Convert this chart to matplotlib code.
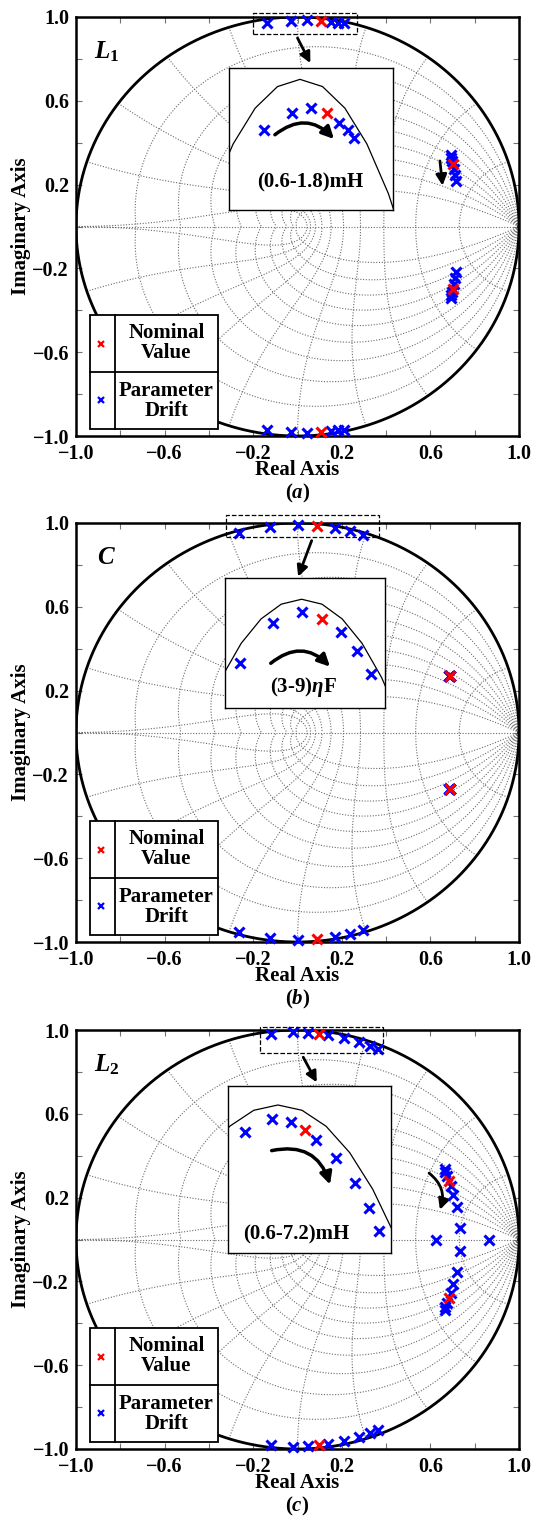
import numpy as np
import matplotlib.pyplot as plt
from matplotlib.patches import Rectangle

plt.rcParams['font.family'] = ['Liberation Serif', 'DejaVu Serif']
plt.rcParams['font.weight'] = 'bold'
plt.rcParams['axes.labelweight'] = 'bold'
plt.rcParams['mathtext.fontset'] = 'custom'
plt.rcParams['mathtext.rm'] = 'Liberation Serif:bold'
plt.rcParams['mathtext.bf'] = 'Liberation Serif:bold'
plt.rcParams['mathtext.it'] = 'Liberation Serif:italic:bold'
plt.rcParams['mathtext.bfit'] = 'Liberation Serif:italic:bold'

# closed-loop poles (upper half plane, conjugates mirrored when drawn)
# (a) L1 swept over 0.6-1.8 mH
l1_hi_re = [-0.139, -0.031, 0.044, 0.105, 0.150, 0.184, 0.210]
l1_hi_im = [0.973, 0.982, 0.985, 0.982, 0.977, 0.973, 0.969]
l1_lo_re = [0.692, 0.695, 0.697, 0.700, 0.705, 0.710, 0.715]
l1_lo_im = [0.340, 0.325, 0.311, 0.297, 0.275, 0.245, 0.215]
l1_real = []
l1_nom = 3

# (b) C swept over 3-9 nF
c_hi_re = [-0.264, -0.124, 0.001, 0.087, 0.169, 0.237, 0.297]
c_hi_im = [0.951, 0.982, 0.990, 0.985, 0.975, 0.960, 0.942]
c_lo_re = [0.686, 0.686, 0.687, 0.690, 0.687, 0.687, 0.688]
c_lo_im = [0.270, 0.270, 0.269, 0.269, 0.269, 0.268, 0.268]
c_real = []
c_nom = 3

# (c) L2 swept over 0.6-7.2 mH, last step splits onto the real axis
l2_hi_re = [-0.120, -0.022, 0.046, 0.096, 0.139, 0.211, 0.279, 0.327, 0.365]
l2_hi_im = [0.981, 0.990, 0.988, 0.982, 0.975, 0.962, 0.944, 0.926, 0.910]
l2_lo_re = [0.664, 0.668, 0.674, 0.685, 0.692, 0.703, 0.719, 0.734]
l2_lo_im = [0.335, 0.322, 0.305, 0.278, 0.255, 0.213, 0.157, 0.055]
l2_real = [0.625, 0.866]
l2_nom = 3

W, H = 539, 1518
fig = plt.figure(figsize=(W / 100, H / 100), dpi=100)


def px_rect(x0, y0, x1, y1):
    return [x0 / W, 1 - y1 / H, (x1 - x0) / W, (y1 - y0) / H]


def zgrid(ax):
    kw = dict(color='0.42', lw=0.8, ls=(0, (1, 1.5)), zorder=1)
    th = np.linspace(0, np.pi, 300)
    for zeta in np.arange(1, 10) / 10:
        m = np.tan(np.arcsin(zeta))
        z = np.exp(th * (-m + 1j))
        ax.plot(z.real, z.imag, **kw)
        ax.plot(z.real, -z.imag, **kw)
    ph = np.linspace(np.pi / 2, np.pi, 150)
    for k in range(1, 11):
        z = np.exp(k * np.pi / 10 * np.exp(1j * ph))
        ax.plot(z.real, z.imag, **kw)
        ax.plot(z.real, -z.imag, **kw)
    ax.plot([-1, 1], [0, 0], **kw)


def draw_poles(ax, hi_re, hi_im, lo_re, lo_im, real, nom, ms=7, mew=2.2,
               mirror=True):
    groups = [(hi_re, hi_im), (lo_re, lo_im)]
    signs = (1, -1) if mirror else (1,)
    for re, im in groups:
        if len(re) == 0:
            continue
        re = np.asarray(re)
        im = np.asarray(im)
        idx = np.arange(len(re)) != nom
        for sgn in signs:
            ax.plot(re[idx], sgn * im[idx], 'x', color='b', ms=ms, mew=mew,
                    clip_on=False, zorder=5)
            ax.plot(re[nom], sgn * im[nom], 'x', color='r', ms=ms, mew=mew,
                    clip_on=False, zorder=6)
    if len(real):
        ax.plot(real, np.zeros(len(real)), 'x', color='b', ms=ms, mew=mew,
                zorder=5)


def legend_table(ax):
    t = ax.transAxes
    x0, x1, xd = 0.032, 0.320, 0.088
    y0, y1, yd = 0.017, 0.289, 0.153
    ax.add_patch(Rectangle((x0, y0), x1 - x0, y1 - y0, transform=t,
                           fc='w', ec='k', lw=1.3, zorder=8))
    ax.plot([xd, xd], [y0, y1], color='k', lw=1.3, transform=t, zorder=9)
    ax.plot([x0, x1], [yd, yd], color='k', lw=1.3, transform=t, zorder=9)
    ax.plot(0.056, 0.220, 'x', color='r', ms=5, mew=1.6, transform=t, zorder=10)
    ax.plot(0.056, 0.086, 'x', color='b', ms=5, mew=1.6, transform=t, zorder=10)
    ax.text(0.204, 0.221, 'Nominal\nValue', transform=t, ha='center',
            va='center', fontsize=15, linespacing=1.0, zorder=10)
    ax.text(0.204, 0.084, 'Parameter\nDrift', transform=t, ha='center',
            va='center', fontsize=15, linespacing=1.0, zorder=10)


def unit_circle(ax, lw, n=400):
    th = np.linspace(0, 2 * np.pi, n)
    ax.plot(np.cos(th), np.sin(th), color='k', lw=lw, zorder=3)


panels = [
    dict(data=(l1_hi_re, l1_hi_im, l1_lo_re, l1_lo_im, l1_real, l1_nom),
         top=17, name=r'$L_{\mathrm{1}}$', tag=r'($\mathit{a}$)',
         note='(0.6-1.8)mH', box=(229, 68, 393, 210),
         ixlim=(-0.275, 0.36), iylim=(0.931, 1.006),
         rect=(-0.201, 0.919, 0.269, 1.019),
         zoom_arrow=((0.0, 0.90), (0.058, 0.78)),
         curl=((0.28, 0.53), (0.64, 0.50), -0.45), note_xy=(0.494, 0.197),
         drift=((0.643, 0.313), (0.655, 0.195), 0.0)),
    dict(data=(c_hi_re, c_hi_im, c_lo_re, c_lo_im, c_real, c_nom),
         top=523, name=r'$C$', tag=r'($\mathit{b}$)',
         note=r'(3-9)$\eta$F', box=(225, 578, 385, 708),
         ixlim=(-0.328, 0.357), iylim=(0.916, 1.0164),
         rect=(-0.324, 0.932, 0.369, 1.038),
         zoom_arrow=((0.064, 0.916), (0.003, 0.744)),
         curl=((0.286, 0.344), (0.656, 0.318), -0.45), note_xy=(0.489, 0.164),
         drift=None),
    dict(data=(l2_hi_re, l2_hi_im, l2_lo_re, l2_lo_im, l2_real, l2_nom),
         top=1030, name=r'$L_{\mathrm{2}}$', tag=r'($\mathit{c}$)',
         note='(0.6-7.2)mH', box=(228, 1086, 391, 1253),
         ixlim=(-0.18, 0.408), iylim=(0.894, 1.0136),
         rect=(-0.170, 0.892, 0.387, 1.013),
         zoom_arrow=((0.026, 0.870), (0.087, 0.75)),
         curl=((0.268, 0.613), (0.626, 0.41), -0.45), note_xy=(0.421, 0.11),
         drift=((0.594, 0.317), (0.643, 0.142), -0.35)),
]

ticks = np.round(np.arange(-1, 1.01, 0.2), 1)
labels = ['\u22121.0', '', '\u22120.6', '', '\u22120.2', '', '0.2', '', '0.6', '', '1.0']

for p in panels:
    top = p['top']
    ax = fig.add_axes(px_rect(76, top, 519, top + 419))
    zgrid(ax)
    unit_circle(ax, 2.0)
    draw_poles(ax, *p['data'])
    ax.set_xlim(-1, 1)
    ax.set_ylim(-1, 1)
    ax.set_xticks(ticks)
    ax.set_yticks(ticks)
    ax.set_xticklabels(labels)
    ax.set_yticklabels(labels)
    ax.tick_params(direction='in', length=4, width=0.8, color='0.45',
                   top=True, right=True, labelsize=14.5)
    ax.tick_params(axis='x', pad=6)
    ax.tick_params(axis='y', pad=5)
    for s in ax.spines.values():
        s.set_linewidth(1.8)
    ax.set_xlabel('Real Axis', fontsize=15, labelpad=-3)
    ax.set_ylabel('Imaginary Axis', fontsize=15, labelpad=1)
    ax.text(0.5, -0.138, p['tag'], transform=ax.transAxes, ha='center',
            va='center', fontsize=15)
    ax.text(-0.862, 0.835, p['name'], ha='center', va='center', fontsize=18)
    legend_table(ax)

    # dashed zoom window and pointer to the magnified view
    r = p['rect']
    ax.add_patch(Rectangle((r[0], r[1]), r[2] - r[0], r[3] - r[1], fill=False,
                           ls='--', lw=0.9, ec='k', clip_on=False, zorder=7))
    a0, a1 = p['zoom_arrow']
    ax.annotate('', xy=a1, xytext=a0,
                arrowprops=dict(arrowstyle='-|>', color='k', lw=2,
                                mutation_scale=16, shrinkA=0, shrinkB=0))
    if p['drift']:
        d0, d1, rad = p['drift']
        ax.annotate('', xy=d1, xytext=d0,
                    arrowprops=dict(arrowstyle='-|>', color='k', lw=2,
                                    mutation_scale=16, shrinkA=0, shrinkB=0,
                                    connectionstyle=f'arc3,rad={rad}'))

    # magnified view of the upper cluster
    ins = fig.add_axes(px_rect(*p['box']))
    unit_circle(ins, 0.9, n=73)
    hi_re, hi_im, lo_re, lo_im, real, nom = p['data']
    draw_poles(ins, hi_re, hi_im, [], [], [], nom, mirror=False)
    ins.set_xlim(*p['ixlim'])
    ins.set_ylim(*p['iylim'])
    ins.set_xticks([])
    ins.set_yticks([])
    for s in ins.spines.values():
        s.set_linewidth(1.0)
    for ln in ins.lines:
        ln.set_clip_on(True)
    c0, c1, rad = p['curl']
    ins.annotate('', xy=c1, xytext=c0, xycoords='axes fraction',
                 textcoords='axes fraction',
                 arrowprops=dict(arrowstyle='-|>', color='k', lw=2.5,
                                 mutation_scale=18, shrinkA=0, shrinkB=0,
                                 connectionstyle=f'arc3,rad={rad}'))
    ins.text(*p['note_xy'], p['note'], transform=ins.transAxes, ha='center',
             va='center', fontsize=15)

fig.savefig('out.png', dpi=100)
